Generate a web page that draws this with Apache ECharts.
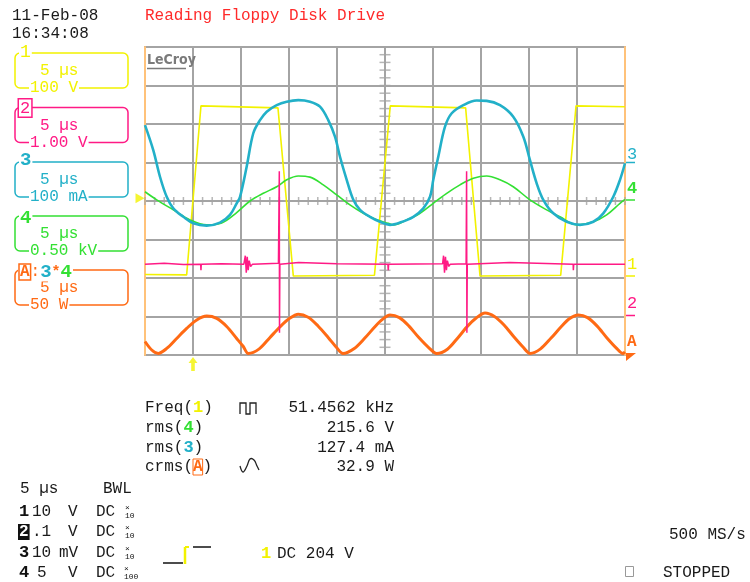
<!DOCTYPE html>
<html><head><meta charset="utf-8">
<script src="https://cdn.jsdelivr.net/npm/echarts@6/dist/echarts.min.js"></script>
<style>html,body{margin:0;padding:0;background:#fff}#c{width:750px;height:582px}</style>
</head><body><div id="c"></div>
<script>
// Time axis in µs (5 µs/div, 10 div); values in screen divisions (8 div)
const ch1Time = [0, 4.34, 5.83, 13.85, 15.45, 23.9, 25.55, 33.4, 34.9, 43.3, 44.9, 50];
const ch1Div  = [-1.91, -1.92, 2.47, 2.42, -1.95, -1.93, 2.47, 2.42, -1.95, -1.93, 2.47, 2.45];

const ch2Time = [0, 2.0, 4.0, 5.8, 5.83, 5.86, 8.0, 10.3, 10.45, 10.55, 10.65, 10.75, 10.85, 11.0, 11.2, 13.9, 13.99, 14.01, 14.05, 16, 20, 25.3, 25.34, 25.38, 31.0, 31.1, 31.2, 31.3, 31.4, 31.5, 31.65, 31.8, 33.45, 33.5, 33.53, 33.57, 38, 44.6, 44.62, 44.66, 50];
const ch2Div  = [-1.64, -1.62, -1.65, -1.64, -1.80, -1.64, -1.63, -1.64, -1.42, -1.86, -1.45, -1.80, -1.55, -1.70, -1.64, -1.62, 0.77, -3.42, -1.64, -1.60, -1.63, -1.64, -1.80, -1.64, -1.63, -1.42, -1.86, -1.45, -1.80, -1.55, -1.70, -1.64, -1.63, 0.77, -3.42, -1.64, -1.60, -1.64, -1.80, -1.64, -1.64];

const ch3Time = [0,0.86,1.56,2.26,2.95,3.99,5.03,6.43,7.81,8.85,9.55,9.90,10.59,11.28,11.98,12.68,13.72,14.76,15.97,17.19,18.23,19.09,19.79,20.31,21.01,21.70,22.40,23.44,24.48,25.52,26.56,27.95,28.99,29.69,30.03,30.55,31.25,31.95,33.16,34.55,35.59,36.98,38.36,39.41,40.10,40.80,41.49,42.53,43.93,45.31,46.70,47.74,48.78,49.48,50];
const ch3Div  = [1.97,1.32,0.63,0.11,-0.19,-0.41,-0.58,-0.64,-0.56,-0.36,-0.06,0.11,0.89,1.76,2.10,2.32,2.49,2.58,2.62,2.58,2.45,2.10,1.67,1.15,0.55,0.03,-0.23,-0.41,-0.54,-0.62,-0.56,-0.41,-0.19,0.11,0.55,1.15,1.93,2.28,2.49,2.61,2.60,2.49,2.19,1.67,1.06,0.46,0.03,-0.32,-0.54,-0.62,-0.54,-0.32,0.11,0.55,0.98];

const ch4Time = [0,1.22,2.95,4.69,6.43,7.99,9.55,10.94,12.32,13.72,14.76,15.97,17.19,18.57,19.97,21.35,22.74,24.14,25.34,25.86,27.26,28.65,30.03,31.43,32.81,34.20,35.59,36.98,38.36,40.10,41.84,43.23,44.97,46.70,48.09,49.48,50];
const ch4Div  = [0.24,0.03,-0.23,-0.49,-0.62,-0.57,-0.30,0.00,0.20,0.37,0.55,0.65,0.62,0.42,0.16,-0.10,-0.32,-0.49,-0.58,-0.62,-0.49,-0.32,-0.06,0.20,0.42,0.59,0.65,0.55,0.37,0.03,-0.23,-0.41,-0.62,-0.54,-0.36,-0.06,0.04];

const mathATime = [0,0.70,1.39,2.26,3.30,4.34,5.39,6.43,7.47,8.51,9.55,10.24,10.76, 11.9,13.0,14.1,15.0,15.97,17.0,18.0,19.1,20.0,20.62, 21.8,22.9,23.9,24.7,25.52,26.5,27.5,28.5,29.6,30.38, 31.5,32.6,33.6,34.5,35.42,36.4,37.4,38.4,39.4,40.10, 41.2,42.3,43.3,44.2,45.14,46.1,47.1,48.1,49.1,49.79,50];
const mathADiv  = [-3.65,-3.87,-3.96,-3.83,-3.57,-3.31,-3.09,-2.99,-3.05,-3.26,-3.57,-3.78,-3.96, -3.84,-3.55,-3.26,-3.06,-2.94,-3.02,-3.24,-3.55,-3.82,-3.96, -3.83,-3.56,-3.28,-3.08,-2.96,-3.03,-3.25,-3.54,-3.82,-3.96, -3.85,-3.55,-3.25,-3.04,-2.91,-3.00,-3.22,-3.52,-3.80,-3.96, -3.84,-3.56,-3.28,-3.06,-2.96,-3.03,-3.25,-3.55,-3.82,-3.96,-3.92];

const triggerTime = 5;      // µs
const triggerLevel = 0.07;  // div

const COL = {c1:'#f2f200', c2:'#ff1a85', c3:'#22b0c8', c4:'#33e033', a:'#ff6a14', grid:'#a4a4a4', edge:'#ffc27a'};
const MONO = '"Liberation Mono","DejaVu Sans Mono",monospace';

const zip = (t, v) => t.map((x, i) => [x, v[i]]);
const ticksV = []; for (let k = -20; k <= 20; k++) ticksV.push([25, k / 5]);
const ticksH = []; for (let k = 0; k <= 50; k++) ticksH.push([k, 0]);

function txt(x, y, text, fill, size, extra) {
  return {type:'text', x, y, silent:true, z:10,
    style: Object.assign({text, fill: fill || '#1a1a1a', font: (size || 16) + 'px ' + MONO,
      textVerticalAlign:'middle', verticalAlign:'middle'}, extra || {})};
}
function ln(x1, y1, x2, y2, color, w) {
  return {type:'line', silent:true, z:10, shape:{x1, y1, x2, y2}, style:{stroke:color, lineWidth:w || 1.5}};
}
function box(top, color, unit) {
  return [
    {type:'rect', silent:true, z:9, shape:{x:15, y:top, width:113, height:35, r:5}, style:{fill:'none', stroke:color, lineWidth:1.5}},
    txt(40, top + 18, '5 µs', color),
    txt(29, top + 35, unit, color, 16, {backgroundColor:'#fff', padding:[0, 1]})
  ];
}

const graphics = [
  txt(12, 16, '11-Feb-08'),
  txt(12, 34, '16:34:08'),
  txt(145, 16, 'Reading Floppy Disk Drive', '#ff2a2a'),
  ...box(53, COL.c1, '100 V'),
  txt(19, 52, '1', COL.c1, 18, {backgroundColor:'#fff', padding:[0, 1]}),
  ...box(107.5, COL.c2, '1.00 V'),
  txt(19, 108, '2', COL.c2, 17, {backgroundColor:'#fff', borderColor:COL.c2, borderWidth:1.5, padding:[0, 1]}),
  ...box(162, COL.c3, '100 mA'),
  txt(19, 160, '3', COL.c3, 19, {font:'bold 19px ' + MONO, backgroundColor:'#fff', padding:[0, 1]}),
  ...box(216, COL.c4, '0.50 kV'),
  txt(19, 218, '4', COL.c4, 19, {font:'bold 19px ' + MONO, backgroundColor:'#fff', padding:[0, 1]}),
  ...box(270, COL.a, '50 W'),
  txt(18, 272, '{a|A}{p|:}{c|3}{s|*}{g|4}', COL.a, 17, {backgroundColor:'#fff', padding:[0, 1], rich:{
    a:{fill:COL.a, font:'bold 16px ' + MONO, borderColor:COL.a, borderWidth:1.5, padding:[0, 1]},
    p:{fill:COL.a, font:'16px ' + MONO},
    c:{fill:COL.c3, font:'bold 19px ' + MONO},
    s:{fill:COL.a, font:'bold 15px ' + MONO},
    g:{fill:COL.c4, font:'bold 19px ' + MONO}}}),
  // LeCroy logo
  txt(147, 60, 'LeCroy', '#7a7a7a', 14, {font:'bold 14px "DejaVu Sans Condensed","DejaVu Sans",sans-serif'}),
  ln(147, 68.5, 186, 68.5, '#7a7a7a', 1.5),
  // right-side channel markers
  txt(627, 154, '3', COL.c3, 17), ln(626, 162.5, 635, 162.5, COL.c3, 1.5),
  txt(627, 189, '4', COL.c4, 17, {font:'bold 17px ' + MONO}), ln(626, 200, 635, 200, COL.c4, 1.5),
  txt(627, 264, '1', COL.c1, 17), ln(626, 276, 635, 276, COL.c1, 1.5),
  txt(627, 303, '2', COL.c2, 17), ln(626, 315.5, 635, 315.5, COL.c2, 1.5),
  txt(627, 342, 'A', COL.a, 17, {font:'bold 16px ' + MONO}),
  {type:'polygon', silent:true, z:10, shape:{points:[[626,353],[636,353],[626,361]]}, style:{fill:COL.a}},
  // measurements
  txt(145, 408, 'Freq({y|1})', '#1a1a1a', 16, {rich:{y:{fill:COL.c1, font:'bold 17px ' + MONO}}}),
  txt(145, 428, 'rms({g|4})', '#1a1a1a', 16, {rich:{g:{fill:COL.c4, font:'bold 17px ' + MONO}}}),
  txt(145, 448, 'rms({c|3})', '#1a1a1a', 16, {rich:{c:{fill:COL.c3, font:'bold 17px ' + MONO}}}),
  txt(145, 467, 'crms({a|A})', '#1a1a1a', 16, {rich:{a:{fill:COL.a, font:'bold 16px ' + MONO, borderColor:COL.a, borderWidth:1, padding:[0, 0]}}}),
  {type:'polyline', silent:true, z:10, shape:{points:[[240,414],[240,403],[246,403],[246,414],[250,414],[250,403],[256,403],[256,414]]}, style:{stroke:'#222', lineWidth:1.3, fill:'none'}},
  {type:'polyline', silent:true, z:10, shape:{points:[[240,466],[243,472],[247,466],[250,459],[254,460],[257,466],[259,470]], smooth:0.4}, style:{stroke:'#222', lineWidth:1.3, fill:'none'}},
  txt(394, 408, '51.4562 kHz', '#1a1a1a', 16, {textAlign:'right', align:'right'}),
  txt(394, 428, '215.6 V', '#1a1a1a', 16, {textAlign:'right', align:'right'}),
  txt(394, 448, '127.4 mA', '#1a1a1a', 16, {textAlign:'right', align:'right'}),
  txt(394, 467, '32.9 W', '#1a1a1a', 16, {textAlign:'right', align:'right'}),
  // bottom-left block
  txt(20, 489, '5 µs'),
  txt(103, 489, 'BWL'),
  txt(19, 512, '1', '#111', 17, {font:'bold 17px ' + MONO}),
  txt(18, 532, '2', '#fff', 16, {font:'bold 16px ' + MONO, backgroundColor:'#111', padding:[0, 1]}),
  txt(19, 553, '3', '#111', 17, {font:'bold 17px ' + MONO}),
  txt(19, 573, '4', '#111', 17, {font:'bold 17px ' + MONO}),
  txt(32, 512, '10'), txt(32, 532, '.1'), txt(32, 553, '10'), txt(37, 573, '5'),
  txt(68, 512, 'V'), txt(68, 532, 'V'), txt(59, 553, 'mV'), txt(68, 573, 'V'),
  txt(96, 512, 'DC'), txt(96, 532, 'DC'), txt(96, 553, 'DC'), txt(96, 573, 'DC'),
  txt(125, 512, '×\n10', '#111', 8, {lineHeight:8}),
  txt(125, 532, '×\n10', '#111', 8, {lineHeight:8}),
  txt(125, 553, '×\n10', '#111', 8, {lineHeight:8}),
  txt(124, 573, '×\n100', '#111', 8, {lineHeight:8}),
  // trigger icon
  ln(163, 563, 183, 563, '#111', 1.5),
  ln(185, 547, 185, 564, COL.c1, 2.5),
  ln(185, 547, 189, 547, COL.c1, 2),
  ln(193, 547, 211, 547, '#111', 1.5),
  txt(261, 554, '1', COL.c1, 17, {font:'bold 17px ' + MONO}),
  txt(277, 554, 'DC 204 V'),
  txt(669, 535, '500 MS/s'),
  {type:'rect', silent:true, z:10, shape:{x:625.5, y:566.5, width:8, height:10}, style:{fill:'none', stroke:'#999', lineWidth:1}},
  txt(663, 573, 'STOPPED')
];

const lineSeries = (name, data, color, width, smooth, z) => ({
  name, type:'line', data, showSymbol:false, symbol:'none', smooth, z, silent:true,
  lineStyle:{color, width}, animation:false
});

const option = {
  animation:false,
  backgroundColor:'#fff',
  grid:{left:145, top:47, width:480, height:308, show:true, borderColor:COL.grid, borderWidth:2, backgroundColor:'transparent'},
  xAxis:{type:'value', min:0, max:50, interval:5,
    axisLine:{show:false}, axisTick:{show:false}, axisLabel:{show:false},
    splitLine:{show:true, lineStyle:{color:COL.grid, width:2}}},
  yAxis:[
    {type:'value', min:-4, max:4, interval:1, position:'left',
      axisLine:{show:true, onZero:false, lineStyle:{color:COL.edge, width:2}}, axisTick:{show:false}, axisLabel:{show:false},
      splitLine:{show:true, lineStyle:{color:COL.grid, width:2}}},
    {type:'value', min:-4, max:4, interval:1, position:'right',
      axisLine:{show:true, onZero:false, lineStyle:{color:COL.edge, width:2}}, axisTick:{show:false}, axisLabel:{show:false},
      splitLine:{show:false}}
  ],
  graphic:{elements:graphics},
  series:[
    {type:'scatter', data:ticksV, symbol:'rect', symbolSize:[11, 1.5], itemStyle:{color:COL.grid}, silent:true, z:1, animation:false},
    {type:'scatter', data:ticksH, symbol:'rect', symbolSize:[1.5, 8], itemStyle:{color:COL.grid}, silent:true, z:1, animation:false},
    lineSeries('1', zip(ch1Time, ch1Div), COL.c1, 1.6, false, 2),
    lineSeries('4', zip(ch4Time, ch4Div), COL.c4, 1.6, 0.35, 3),
    lineSeries('A', zip(mathATime, mathADiv), COL.a, 3, 0.3, 3),
    lineSeries('2', zip(ch2Time, ch2Div), COL.c2, 1.5, false, 4),
    lineSeries('3', zip(ch3Time, ch3Div), COL.c3, 2.6, 0.35, 5),
    {type:'scatter', clip:false, silent:true, z:6, animation:false,
      data:[[triggerTime, -4]], symbol:'path://M5,0 L10,6 L7,6 L7,14 L3,14 L3,6 L0,6 Z', symbolSize:[9, 14], symbolOffset:[0, 9],
      itemStyle:{color:COL.c1}},
    {type:'scatter', clip:false, silent:true, z:6, animation:false,
      data:[[0, triggerLevel]], symbol:'triangle', symbolRotate:-90, symbolSize:[10, 9], symbolOffset:[-5, 0],
      itemStyle:{color:COL.c1}}
  ]
};
echarts.init(document.getElementById('c'), null, {renderer:'canvas'}).setOption(option);
</script></body></html>
